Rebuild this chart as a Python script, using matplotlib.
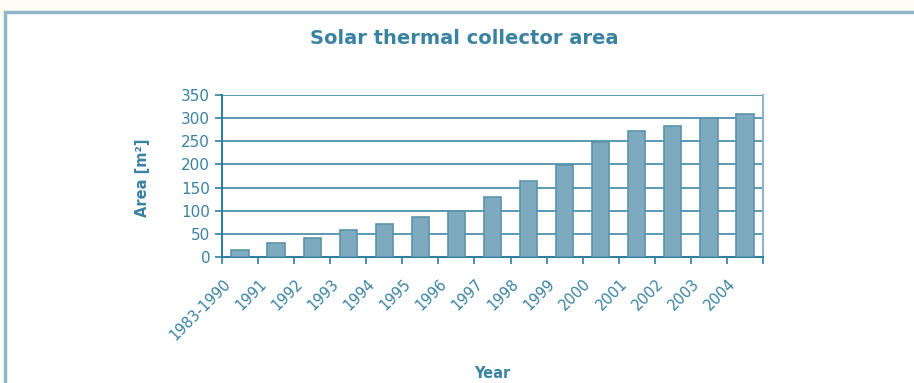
#!/usr/bin/env python3
"""
Solar thermal collector area bar chart
"""
import matplotlib
matplotlib.use("Agg")
import matplotlib.pyplot as plt
from matplotlib.patches import Rectangle
from matplotlib.transforms import ScaledTranslation

years = ["1983-1990", "1991", "1992", "1993", "1994", "1995", "1996", "1997",
         "1998", "1999", "2000", "2001", "2002", "2003", "2004"]
area = [16, 31, 41, 58, 71, 87, 100, 130, 164, 198, 248, 272, 284, 301, 310]
yticks = [0, 50, 100, 150, 200, 250, 300, 350]

teal = "#3a82a2"
line = "#2f7f9f"
bar_face = "#7eaac0"
bar_edge = "#5b93ab"

plt.rcParams.update({'font.family': 'DejaVu Sans'})

fig = plt.figure(figsize=(9.14, 3.83), dpi=100)
fig.patch.set_facecolor("#fdfdf3")
fig.patches.append(Rectangle((5 / 914, -0.01), 1.0, 1.01 - 12 / 383,
                             transform=fig.transFigure, facecolor="white",
                             edgecolor="#90b6c8", linewidth=2.5, zorder=-5))

ax = fig.add_axes([222 / 914, 1 - 257 / 383, (763 - 222) / 914, (257 - 95) / 383])
ax.set_zorder(2)
ax.set_facecolor("white")

x = list(range(len(years)))
ax.bar(x, area, width=0.48, color=bar_face, edgecolor=bar_edge, linewidth=1.2, zorder=3)

ax.set_xlim(-0.5, len(years) - 0.5)
ax.set_ylim(0, 350)
ax.set_yticks(yticks)
ax.yaxis.grid(True, color=line, linewidth=1.3, alpha=0.85, zorder=0)

# labelled ticks at bar centres (no marks), tick marks at category edges
ax.set_xticks(x)
ax.set_xticklabels(years, rotation=45, ha="right", va="top",
                   rotation_mode="anchor", color=teal, fontsize=10.5)
ax.set_xticks([i + 0.5 for i in range(-1, len(years))], minor=True)
ax.tick_params(axis="x", which="minor", length=5, color=line, width=1.2, direction="out")
ax.tick_params(axis="x", which="major", length=0, pad=14)
ax.tick_params(axis="y", length=5, color=line, width=1.2, labelcolor=teal, labelsize=11)
shift = ScaledTranslation(-12.5 / 72, 0, fig.dpi_scale_trans)
for lab in ax.get_xticklabels():
    lab.set_transform(lab.get_transform() + shift)

for side in ["left", "bottom"]:
    ax.spines[side].set_color(line)
    ax.spines[side].set_linewidth(1.5)
ax.spines["top"].set_visible(False)
ax.spines["right"].set_color("#8fb5c8")
ax.spines["right"].set_linewidth(1.5)

fig.text(464 / 914, 1 - 38 / 383, "Solar thermal collector area", ha="center", va="center",
         color=teal, fontsize=14, fontweight="bold")
fig.text(143 / 914, 1 - 178 / 383, "Area [m²]", ha="center", va="center", rotation=90,
         color=teal, fontsize=10.5, fontweight="bold")
fig.text(492 / 914, 1 - 373 / 383, "Year", ha="center", va="center",
         color=teal, fontsize=10.5, fontweight="bold")

plt.savefig("out.png", dpi=100, facecolor=fig.get_facecolor())
plt.close()
